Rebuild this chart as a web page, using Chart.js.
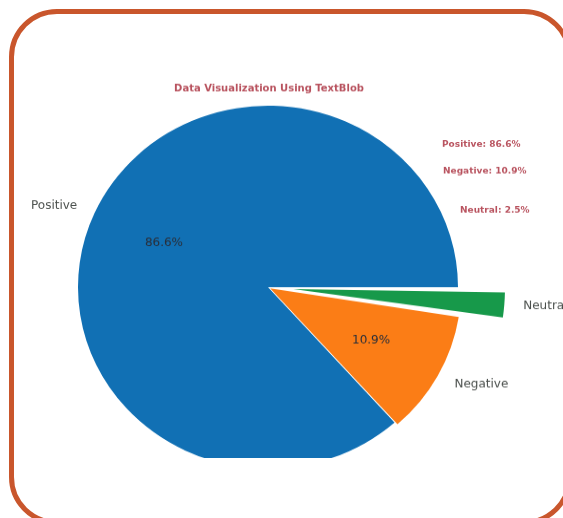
<!DOCTYPE html>
<html>
<head>
<meta charset="utf-8">
<script src="https://cdn.jsdelivr.net/npm/chart.js"></script>
<style>
  html, body { margin: 0; padding: 0; background: #fff; overflow: hidden; }
  body { width: 563px; height: 518px; position: relative; }
  #card {
    position: absolute; left: 9px; top: 9px; width: 563px; height: 516px;
    box-sizing: border-box; border: 5px solid #c9562c; border-radius: 48px; background: #fff;
  }
  #shot { position: absolute; left: 16px; top: 78px; width: 552px; height: 380px; overflow: hidden; }
  #squash { transform: scaleY(0.955); transform-origin: 0 0; }
  canvas { display: block; }
</style>
</head>
<body>
<div id="card"></div>
<div id="shot"><div id="squash"><canvas id="sentimentPie" width="552" height="400"></canvas></div></div>
<script>
const categories = ['Positive', 'Negative', 'Neutral'];
const shares = [86.6, 10.9, 2.5];
const sliceColors = ['#1170b4', '#fb7d16', '#17994a'];
const explodeBy = [0, 10, 102];
const titleText = 'Data Visualization Using TextBlob';

// matplotlib draws counter-clockwise from 3 o'clock, so feed Chart.js the reversed order
const drawOrder = [2, 1, 0];

const noteColor = '#b8525e';

const pieLabels = {
  id: 'pieLabels',
  afterDatasetsDraw(chart) {
    const ctx = chart.ctx;
    const arcs = chart.getDatasetMeta(0).data;
    ctx.save();
    ctx.textBaseline = 'middle';
    arcs.forEach((arc, k) => {
      const i = drawOrder[k];
      const mid = (arc.startAngle + arc.endAngle) / 2;
      const circ = arc.endAngle - arc.startAngle;
      const off = (arc.options.offset || 0) / 4;
      const shift = off * (2 - Math.sin(Math.min(Math.PI, circ)));
      const cx = arc.x + Math.cos(mid) * shift;
      const cy = arc.y + Math.sin(mid) * shift;
      const r = arc.outerRadius;
      const dx = Math.cos(mid), dy = Math.sin(mid);

      ctx.font = '12px "DejaVu Sans"';
      ctx.fillStyle = '#4a4f4c';
      ctx.textAlign = dx > 0 ? 'left' : 'right';
      ctx.fillText(categories[i], cx + dx * r * 1.1, cy + dy * r * 1.1);

      if (i !== 2) {
        ctx.fillStyle = '#2a2f3a';
        ctx.textAlign = 'center';
        ctx.fillText(shares[i].toFixed(1) + '%', cx + dx * r * 0.6, cy + dy * r * 0.6);
      }
    });

    ctx.fillStyle = noteColor;
    ctx.font = 'bold 10px "DejaVu Sans"';
    ctx.textAlign = 'center';
    ctx.fillText(titleText, 253, 11);

    ctx.font = 'bold 9px "DejaVu Sans"';
    ctx.textAlign = 'left';
    ctx.fillText(categories[0] + ': ' + shares[0] + '%', 426, 70);
    ctx.fillText(categories[1] + ': ' + shares[1] + '%', 427, 98);
    ctx.fillText(categories[2] + ': ' + shares[2] + '%', 444, 139);
    ctx.restore();
  }
};

new Chart(document.getElementById('sentimentPie').getContext('2d'), {
  type: 'pie',
  data: {
    labels: drawOrder.map(i => categories[i]),
    datasets: [{
      data: drawOrder.map(i => shares[i]),
      backgroundColor: drawOrder.map(i => sliceColors[i]),
      offset: drawOrder.map(i => explodeBy[i]),
      borderWidth: 0,
      clip: false
    }]
  },
  options: {
    responsive: false,
    animation: false,
    rotation: 90,
    radius: 190,
    layout: { padding: { top: 38, right: 48, bottom: 0, left: 0 } },
    plugins: {
      legend: { display: false },
      tooltip: { enabled: false }
    }
  },
  plugins: [pieLabels]
});
</script>
</body>
</html>
